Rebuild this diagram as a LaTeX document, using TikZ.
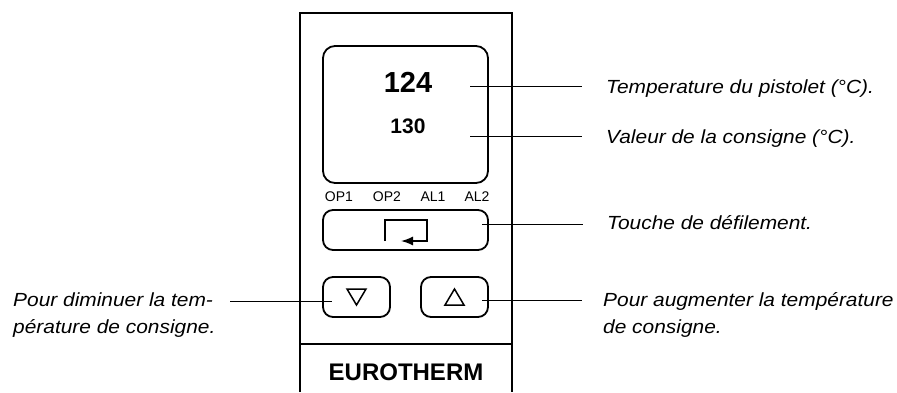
\documentclass[tikz,border=0pt]{standalone}
\usepackage{fontspec}
\setmainfont{Liberation Sans}
\newfontfamily\labfont[FakeStretch=1.1]{Liberation Sans}
\usetikzlibrary{arrows.meta}
\begin{document}
\begin{tikzpicture}[x=1pt,y=-1pt,
  panel/.style={line width=2pt},
  keybox/.style={draw, line width=1.8pt, inner sep=0pt},
  leader/.style={line width=1pt},
  glyph/.style={line width=1.5pt},
  lab/.style={inner sep=0pt, font=\labfont\itshape\fontsize{19}{26.5}\selectfont, align=left},
  led/.style={inner sep=0pt, font=\fontsize{14}{14}\selectfont},
]
\useasboundingbox (0,0) rectangle (897,392);
% housing
\draw[panel] (300,392) -- (300,13) -- (512,13) -- (512,392);
\draw[panel] (300,344) -- (512,344);
% display and keys
\node[keybox, rounded corners=12pt, minimum width=165pt, minimum height=137pt] (disp) at (405.5,114.5) {};
\node[keybox, rounded corners=10pt, minimum width=165pt, minimum height=40pt] (scroll) at (405.5,230) {};
\node[keybox, rounded corners=10pt, minimum width=67pt, minimum height=40pt] (down) at (356.5,297) {};
\node[keybox, rounded corners=10pt, minimum width=67pt, minimum height=40pt] (up) at (454.5,297) {};
% readings
\node[inner sep=0pt, font=\bfseries\fontsize{29}{29}\selectfont] (pv) at (408,82) {124};
\node[inner sep=0pt, font=\bfseries\fontsize{21}{21}\selectfont] (sp) at (408,126) {130};
% indicator labels
\node[led] (op1) at (339,197) {OP1};
\node[led] (op2) at (387,197) {OP2};
\node[led] (al1) at (433,197) {AL1};
\node[led] (al2) at (477,197) {AL2};
% key symbols
\draw[glyph, -{Latex[length=12pt,width=9pt]}] (385,241) -- (385,220) -- (427,220) -- (427,241) -- (401,241);
\draw[glyph, line join=miter] (347,289) -- (366,289) -- (356.5,305) -- cycle;
\draw[glyph, line join=miter] (445,305) -- (464,305) -- (454.5,289) -- cycle;
% brand
\node[inner sep=0pt, font=\bfseries\fontsize{24}{24}\selectfont] (brand) at (406,372) {EUROTHERM};
% annotations
\node[lab, anchor=base west] (tpv) at (606,93) {Temperature du pistolet (°C).};
\node[lab, anchor=base west] (tsp) at (606,143) {Valeur de la consigne (°C).};
\node[lab, anchor=base west] (tscroll) at (607,229) {Touche de défilement.};
\node[lab, anchor=base west] (tdown) at (13,333) {Pour diminuer la tem-\\pérature de consigne.};
\node[lab, anchor=base west] (tup) at (603,333) {Pour augmenter la température\\de consigne.};
% leader lines
\coordinate (a1) at (470,86);  \coordinate (b1) at (582,86);
\coordinate (a2) at (470,136); \coordinate (b2) at (582,136);
\coordinate (a3) at (482,224); \coordinate (b3) at (583,224);
\coordinate (a4) at (230,301); \coordinate (b4) at (332,301);
\coordinate (a5) at (482,300); \coordinate (b5) at (582,300);
\draw[leader] (a1) -- (b1);
\draw[leader] (a2) -- (b2);
\draw[leader] (a3) -- (b3);
\draw[leader] (a4) -- (b4);
\draw[leader] (a5) -- (b5);
\end{tikzpicture}
\end{document}
